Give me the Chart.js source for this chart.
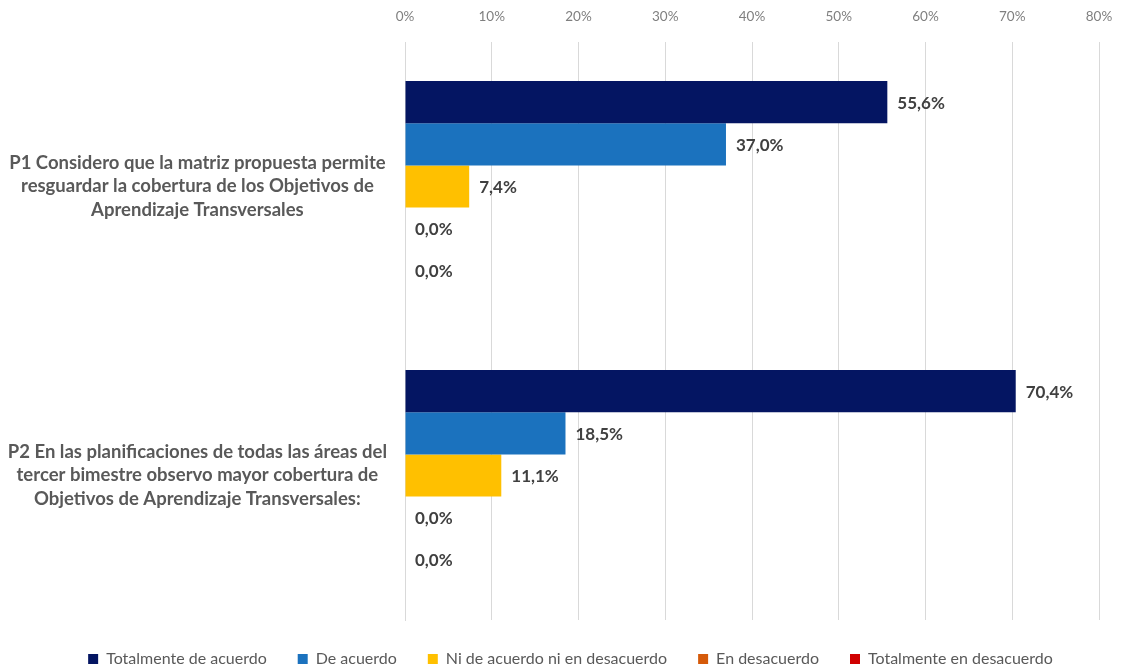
<!DOCTYPE html>
<html><head><meta charset="utf-8">
<script src="https://cdn.jsdelivr.net/npm/chart.js@4"></script>
<style>html,body{margin:0;padding:0;background:#fff}#w{width:1122px;height:667px}</style>
</head><body><div id="w"><canvas id="c"></canvas></div>
<script>
const categories = [
  ["P1 Considero que la matriz propuesta permite","resguardar la cobertura de los Objetivos de","Aprendizaje Transversales"],
  ["P2 En las planificaciones de todas las áreas del","tercer bimestre observo mayor cobertura de","Objetivos de Aprendizaje Transversales:"]
];
const seriesNames = ["Totalmente de acuerdo","De acuerdo","Ni de acuerdo ni en desacuerdo","En desacuerdo","Totalmente en desacuerdo"];
const totalmenteDeAcuerdo = [55.6, 70.4];
const deAcuerdo = [37.0, 18.5];
const niDeAcuerdo = [7.4, 11.1];
const enDesacuerdo = [0.0, 0.0];
const totalmenteEnDesacuerdo = [0.0, 0.0];
const xTicks = [0,10,20,30,40,50,60,70,80];
const colors = ["#041562","#1B72BE","#FFC000","#D55A0A","#D00000"];
const seriesValues = [totalmenteDeAcuerdo, deAcuerdo, niDeAcuerdo, enDesacuerdo, totalmenteEnDesacuerdo];

const labelPlugin = {
  id:'valLabels',
  afterLayout(chart){
    chart.legend.left += 21; chart.legend.right += 21;
  },
  afterDatasetsDraw(chart){
    const ctx = chart.ctx;
    ctx.save();
    ctx.font = 'bold 17px Lato, "Open Sans", sans-serif';
    ctx.fillStyle = '#404040';
    ctx.textBaseline = 'middle';
    ctx.textAlign = 'left';
    chart.data.datasets.forEach((ds,i)=>{
      const meta = chart.getDatasetMeta(i);
      meta.data.forEach((bar,j)=>{
        const v = ds.data[j];
        const t = v.toFixed(1).replace('.',',') + '%';
        ctx.fillText(t, bar.x + 10, bar.y + 1);
      });
    });
    ctx.restore();
  }
};

new Chart(document.getElementById('c'), {
  type:'bar',
  data:{
    labels: categories,
    datasets: seriesNames.map((n,i)=>({
      label:n, data:seriesValues[i], backgroundColor:colors[i],
      borderWidth:0, categoryPercentage:0.73, barPercentage:1.0
    }))
  },
  options:{
    indexAxis:'y',
    responsive:true, maintainAspectRatio:false, animation:false,
    layout:{padding:{top:0,right:23,bottom:-10,left:0}},
    scales:{
      x:{
        position:'top', min:0, max:80,
        afterBuildTicks(ax){ ax.ticks = xTicks.map(v=>({value:v})); },
        afterFit(ax){ ax.height = 42; ax.paddingLeft = 0; ax.paddingRight = 0; },
        ticks:{ callback:v=>v+'%', color:'#7F7F7F', font:{family:'Lato, "Open Sans", sans-serif', size:13.5}, padding:17 },
        grid:{ color:'#D9D9D9', drawTicks:false, lineWidth:1 },
        border:{ display:false }
      },
      y:{
        afterFit(ax){ ax.width = 405; ax.paddingTop = 0; ax.paddingBottom = 0; },
        ticks:{ color:'#595959', font:{family:'Lato, "Open Sans", sans-serif', size:18.5, weight:'bold', lineHeight:1.27}, padding:18, crossAlign:'center' },
        grid:{ display:false, drawTicks:false },
        border:{ display:true, color:'#D9D9D9' }
      }
    },
    plugins:{
      legend:{
        position:'bottom',
        labels:{ boxWidth:10, boxHeight:10, color:'#595959', padding:31,
          font:{family:'Lato, "Open Sans", sans-serif', size:16} }
      },
      tooltip:{enabled:false}
    }
  },
  plugins:[labelPlugin]
});
</script></body></html>
